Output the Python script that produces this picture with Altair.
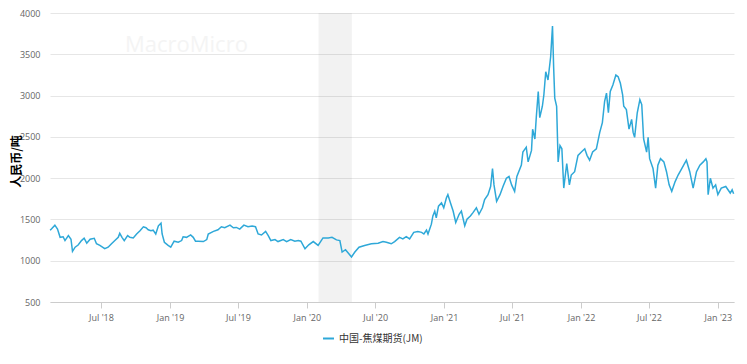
import altair as alt
import pandas as pd

SERIES = "中国-焦煤期货(JM)"
Y_TITLE = "人民币/吨"

dates = [
    "2018-02-15", "2018-02-17", "2018-02-28", "2018-03-07", "2018-03-14", "2018-03-22", "2018-03-27",
    "2018-04-05", "2018-04-12", "2018-04-16", "2018-04-23", "2018-05-01", "2018-05-10", "2018-05-17",
    "2018-05-24", "2018-06-02", "2018-06-13", "2018-06-19", "2018-06-28", "2018-07-11", "2018-07-20",
    "2018-07-29", "2018-08-07", "2018-08-16", "2018-08-20", "2018-08-26", "2018-09-01", "2018-09-10",
    "2018-09-16", "2018-09-25", "2018-10-04", "2018-10-13", "2018-10-22", "2018-10-29", "2018-11-04",
    "2018-11-11", "2018-11-17", "2018-11-24", "2018-12-01", "2018-12-08", "2018-12-11", "2018-12-17",
    "2018-12-27",
    "2019-01-03", "2019-01-12", "2019-01-23", "2019-02-01", "2019-02-05", "2019-02-14", "2019-02-25",
    "2019-03-04", "2019-03-10", "2019-03-17", "2019-03-31", "2019-04-09", "2019-04-13", "2019-04-27",
    "2019-05-09", "2019-05-18", "2019-05-27", "2019-06-10", "2019-06-19", "2019-06-27", "2019-07-06",
    "2019-07-17", "2019-07-28", "2019-08-08", "2019-08-17", "2019-08-24", "2019-09-02", "2019-09-13",
    "2019-09-20", "2019-09-27", "2019-10-08", "2019-10-16", "2019-10-30", "2019-11-08", "2019-11-19",
    "2019-11-30", "2019-12-09", "2019-12-16", "2019-12-27",
    "2020-01-06", "2020-01-18", "2020-01-31", "2020-02-13", "2020-02-27", "2020-03-08", "2020-03-20",
    "2020-03-29", "2020-04-04", "2020-04-13", "2020-04-18", "2020-04-29", "2020-05-08", "2020-05-19",
    "2020-06-03", "2020-06-21", "2020-07-09", "2020-07-22", "2020-07-31", "2020-08-13", "2020-08-22",
    "2020-09-04", "2020-09-13", "2020-09-22", "2020-10-01", "2020-10-12", "2020-10-23", "2020-11-02",
    "2020-11-08", "2020-11-15", "2020-11-19", "2020-11-28", "2020-12-02", "2020-12-07", "2020-12-11",
    "2020-12-17", "2020-12-25", "2020-12-31",
    "2021-01-07", "2021-01-11", "2021-01-18", "2021-01-25", "2021-02-01", "2021-02-10", "2021-02-16",
    "2021-02-25", "2021-03-03", "2021-03-12", "2021-03-19", "2021-03-28", "2021-04-04", "2021-04-13",
    "2021-04-19", "2021-04-28", "2021-05-05", "2021-05-10", "2021-05-14", "2021-05-21", "2021-05-30",
    "2021-06-07", "2021-06-16", "2021-06-23", "2021-06-30", "2021-07-08", "2021-07-14", "2021-07-26",
    "2021-07-30", "2021-08-08", "2021-08-13", "2021-08-22", "2021-08-25", "2021-08-31", "2021-09-04",
    "2021-09-09", "2021-09-13", "2021-09-20", "2021-09-24", "2021-09-29", "2021-10-05", "2021-10-12",
    "2021-10-17", "2021-10-20", "2021-10-23", "2021-10-28", "2021-11-01", "2021-11-06", "2021-11-11",
    "2021-11-16", "2021-11-24", "2021-12-01", "2021-12-06", "2021-12-15", "2021-12-24",
    "2022-01-02", "2022-01-11", "2022-01-17", "2022-01-24", "2022-02-01", "2022-02-11", "2022-02-20",
    "2022-02-27", "2022-03-05", "2022-03-10", "2022-03-15", "2022-03-20", "2022-03-27", "2022-04-04",
    "2022-04-10", "2022-04-16", "2022-04-22", "2022-04-25", "2022-05-02", "2022-05-09", "2022-05-16",
    "2022-05-20", "2022-05-24", "2022-05-31", "2022-06-07", "2022-06-12", "2022-06-17", "2022-06-25",
    "2022-06-29", "2022-07-03", "2022-07-12", "2022-07-19", "2022-07-25", "2022-08-01", "2022-08-10",
    "2022-08-17", "2022-08-24", "2022-08-31", "2022-09-09", "2022-09-17", "2022-09-27", "2022-10-09",
    "2022-10-18", "2022-10-27", "2022-11-05", "2022-11-14", "2022-11-23", "2022-11-30", "2022-12-03",
    "2022-12-06", "2022-12-12", "2022-12-19", "2022-12-26",
    "2023-01-01", "2023-01-10", "2023-01-22", "2023-01-28", "2023-02-03", "2023-02-08", "2023-02-12",
]

prices = [
    1370, 1375, 1431, 1383, 1283, 1290, 1244,
    1304, 1260, 1113, 1164, 1190, 1244, 1272,
    1212, 1260, 1272, 1205, 1185, 1145, 1164,
    1205, 1244, 1283, 1331, 1283, 1244, 1304,
    1283, 1276, 1324, 1363, 1411, 1399, 1375,
    1363, 1370, 1324, 1423, 1455, 1324, 1224,
    1185,
    1164, 1236, 1224, 1244, 1290, 1283, 1312,
    1283, 1236, 1236, 1232, 1256, 1324, 1355,
    1375, 1411, 1399, 1431, 1399, 1403, 1383,
    1431, 1411, 1419, 1411, 1324, 1312, 1355,
    1304, 1244, 1256, 1232, 1256, 1232, 1256,
    1236, 1244, 1236, 1145,
    1193, 1232, 1185, 1276, 1276, 1283, 1252,
    1244, 1105, 1133, 1105, 1046, 1105, 1164,
    1185, 1205, 1212, 1232, 1224, 1205, 1232,
    1283, 1264, 1292, 1264, 1343, 1355, 1343,
    1323, 1370, 1323, 1443, 1542, 1600, 1520,
    1660, 1700, 1641,
    1760, 1800, 1700, 1602, 1463, 1562, 1602,
    1423, 1502, 1542, 1582, 1641, 1562, 1641,
    1740, 1800, 1899, 2117, 1918, 1720, 1800,
    1899, 2000, 2020, 1918, 1840, 2020, 2158,
    2316, 2375, 2197, 2336, 2593, 2474, 2752,
    3050, 2732, 2871, 3010, 3288, 3189, 3467,
    3843, 3348, 2970, 2871, 2197, 2395, 2355,
    1880, 2177, 1919, 2038, 2078, 2276,
    2316, 2355, 2276, 2217, 2316, 2355, 2554,
    2673, 2931, 3030, 2792, 3050, 3129, 3248,
    3228, 3149, 3010, 2871, 2831, 2593, 2712,
    2554, 2494, 2792, 2950, 2891, 2474, 2316,
    2494, 2236, 2118, 1879, 2158, 2236, 2197,
    2078, 1919, 1840, 1958, 2038, 2118, 2217,
    2078, 1879, 2078, 2158, 2197, 2236, 2197,
    1800, 1998, 1879, 1919,
    1800, 1879, 1899, 1859, 1820, 1859, 1810,
]

band_start = ["2020-02-01"]
band_end = ["2020-04-30"]

y_ticks = [500, 1000, 1500, 2000, 2500, 3000, 3500, 4000]
x_tick_months = [(2018, 7), (2019, 1), (2019, 7), (2020, 1), (2020, 7), (2021, 1),
                 (2021, 7), (2022, 1), (2022, 7), (2023, 1)]
x_domain = ["2018-02-15", "2023-02-13"]

df = pd.DataFrame({"date": dates, "price": prices, "series": SERIES})
band = pd.DataFrame({"start": band_start, "end": band_end})

LABEL_FONT = "Open Sans"
CJK = "Noto Sans CJK SC"

x_scale = alt.Scale(domain=x_domain)
x_axis = alt.Axis(
    values=[alt.DateTime(year=y, month=m, date=1) for y, m in x_tick_months],
    format="%b '%y", title=None, grid=False,
    labelFont=LABEL_FONT, labelFontSize=9, labelColor="#666666", labelPadding=5,
    tickColor="#cccccc", tickSize=6, domainColor="#cccccc",
)

rect = alt.Chart(band).mark_rect(color="#000000", opacity=0.05).encode(
    x=alt.X("start:T", scale=x_scale, axis=x_axis),
    x2="end:T",
)

line = alt.Chart(df).mark_line(strokeWidth=1.5).encode(
    x=alt.X("date:T", scale=x_scale, axis=x_axis),
    y=alt.Y("price:Q", scale=alt.Scale(domain=[500, 4000], nice=False),
            axis=alt.Axis(values=y_ticks, format="d", title=Y_TITLE, titleFont=CJK,
                          titleFontWeight="bold", titleFontSize=12, titleColor="#000000",
                          titleX=-27, titleY=148, titleAngle=270, titleBaseline="bottom",
                          titleAlign="center",
                          labelFont=LABEL_FONT, labelFontSize=9, labelColor="#666666",
                          labelPadding=10, ticks=False, domain=False, gridColor="#e6e6e6")),
    color=alt.Color("series:N", scale=alt.Scale(range=["#2ea8d8"]),
                    legend=alt.Legend(title=None, orient="none", legendX=272, legendY=319,
                                      direction="horizontal", labelFont=CJK, labelFontSize=10,
                                      labelColor="#333333", symbolType="stroke",
                                      symbolSize=120, symbolStrokeWidth=2)),
)

watermark = alt.Chart(pd.DataFrame({"t": ["MacroMicro"]})).mark_text(
    font=LABEL_FONT, fontSize=22, color="#f4f4f4", align="left", baseline="alphabetic"
).encode(text="t:N", x=alt.value(75), y=alt.value(39))

chart = alt.layer(watermark, rect, line).properties(
    width=684, height=289,
    autosize=alt.AutoSizeParams(type="none"),
    padding={"left": 42, "top": 5, "right": 5, "bottom": 55},
).configure_view(stroke=None)

chart.save("out.html", embed_options={"renderer": "svg", "actions": False})
